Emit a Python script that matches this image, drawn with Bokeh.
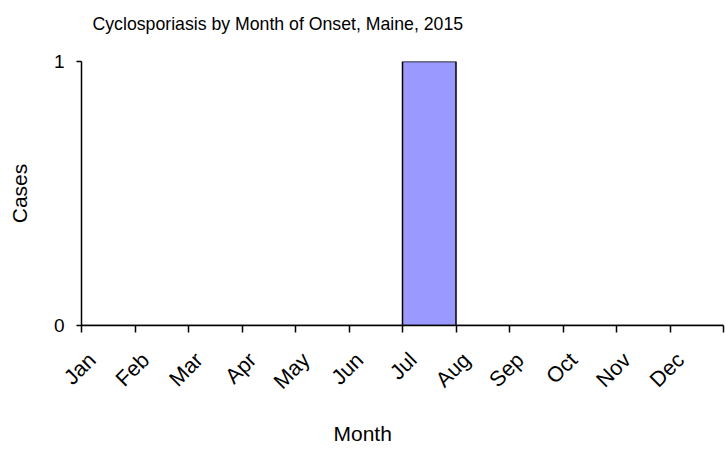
import math
from bokeh.plotting import figure
from bokeh.models import FixedTicker, Range1d, Title, LinearAxis
from bokeh.embed import file_html
from bokeh.resources import INLINE

months = ["Jan", "Feb", "Mar", "Apr", "May", "Jun", "Jul", "Aug", "Sep", "Oct", "Nov", "Dec"]
cases = [0, 0, 0, 0, 0, 0, 1, 0, 0, 0, 0, 0]
title_text = "Cyclosporiasis by Month of Onset, Maine, 2015"
FONT = "Liberation Sans"
LABEL_SHIFT = 0.2

p = figure(width=725, height=460, output_backend="svg", toolbar_location=None,
           x_range=Range1d(0, 12), y_range=Range1d(0, 1),
           min_border_left=81, min_border_right=2, min_border_top=61, min_border_bottom=135)
p.outline_line_color = None
p.xgrid.visible = False
p.ygrid.visible = False

left = [i for i in range(len(months))]
right = [i + 1 for i in range(len(months))]
p.quad(left=left, right=right, bottom=0, top=cases,
       fill_color="#9999FF", line_color="black", line_width=1.5)

# primary x axis: line and tick marks at category boundaries
p.xaxis.ticker = FixedTicker(ticks=list(range(len(months) + 1)))
p.xaxis.major_label_overrides = {i: "" for i in range(len(months) + 1)}
p.xaxis.major_label_text_font_size = "1px"
p.xaxis.major_label_standoff = 0
p.xaxis.minor_tick_line_color = None
p.xaxis.major_tick_out = 7
p.xaxis.major_tick_in = 0
p.xaxis.axis_line_width = 1.5
p.xaxis.major_tick_line_width = 1.5

# label axis: rotated month names
lab_ticks = [i + LABEL_SHIFT for i in range(len(months))]
lab_axis = LinearAxis(ticker=FixedTicker(ticks=lab_ticks),
                      major_label_overrides={t: m for t, m in zip(lab_ticks, months)})
lab_axis.axis_line_color = None
lab_axis.major_tick_line_color = None
lab_axis.minor_tick_line_color = None
lab_axis.major_label_orientation = math.pi / 4
lab_axis.major_label_text_font = FONT
lab_axis.major_label_text_font_size = "21.5px"
lab_axis.major_label_text_color = "black"
lab_axis.major_label_standoff = 18
p.add_layout(lab_axis, "below")

p.yaxis.ticker = FixedTicker(ticks=[0, 1])
p.yaxis.minor_tick_line_color = None
p.yaxis.major_tick_out = 5
p.yaxis.major_tick_in = 0
p.yaxis.axis_line_width = 1.5
p.yaxis.major_tick_line_width = 1.5
p.yaxis.major_label_text_font = FONT
p.yaxis.major_label_text_font_size = "19px"
p.yaxis.major_label_text_color = "black"
p.yaxis.major_label_standoff = 12
p.yaxis.axis_label = "Cases"
p.yaxis.axis_label_text_font = FONT
p.yaxis.axis_label_text_font_size = "21px"
p.yaxis.axis_label_text_font_style = "normal"
p.yaxis.axis_label_text_color = "black"
p.yaxis.axis_label_standoff = 20

# a blank second line reserves room so the title sits higher above the frame
top_title = Title(text=title_text + "\n ", align="left", offset=11, text_font=FONT,
                  text_font_size="17.7px", text_font_style="normal", text_color="black",
                  vertical_align="top", standoff=11)
p.add_layout(top_title, "above")

month_title = Title(text="Month", align="left", offset=252, text_font=FONT,
                    text_font_size="21px", text_font_style="normal", text_color="black",
                    standoff=28)
p.add_layout(month_title, "below")

open("out.html", "w").write(file_html(p, INLINE))
